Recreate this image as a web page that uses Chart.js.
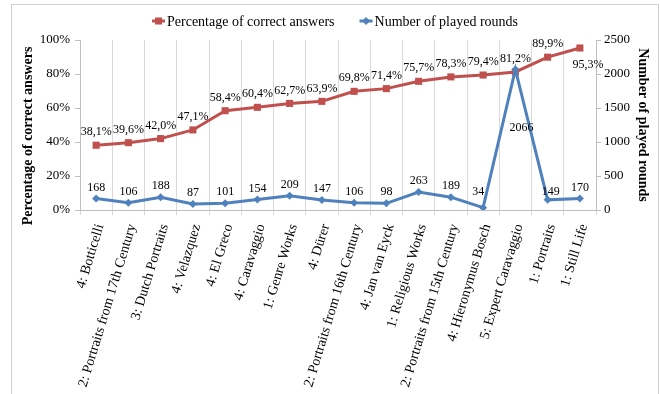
<!DOCTYPE html>
<html>
<head>
<meta charset="utf-8">
<script src="https://cdn.jsdelivr.net/npm/chart.js@4"></script>
<style>
  html, body { margin: 0; padding: 0; background: #fff; }
  #wrap { width: 660px; height: 394px; }
</style>
</head>
<body>
<div id="wrap"><canvas id="c" width="660" height="394"></canvas></div>
<script>
// Quiz categories along the x axis
const categories = [
  '4: Botticelli', '2: Portraits from 17th Century', '3: Dutch Portraits',
  '4: Velazquez', '4: El Greco', '4: Caravaggio', '1: Genre Works', '4: Dürer',
  '2: Portraits from 16th Century', '4: Jan van Eyck', '1: Religious Works',
  '2: Portraits from 15th Century', '4: Hieronymus Bosch', '5: Expert Caravaggio',
  '1: Portraits', '1: Still Life'
];
// Share of correct answers, in percent
const correctPct = [38.1, 39.6, 42.0, 47.1, 58.4, 60.4, 62.7, 63.9, 69.8, 71.4, 75.7, 78.3, 79.4, 81.2, 89.9, 95.3];
// Rounds played per category
const playedRounds = [168, 106, 188, 87, 101, 154, 209, 147, 106, 98, 263, 189, 34, 2066, 149, 170];
// Axis ticks
const pctTicks = [0, 20, 40, 60, 80, 100];
const roundTicks = [0, 500, 1000, 1500, 2000, 2500];

const FONT = "'Liberation Serif', 'Times New Roman', serif";
const RED = '#C0504D';
const BLUE = '#4F81BD';
const GRID = '#D9D9D9';
const AXIS = '#BFBFBF';

const fmtPct = v => v.toFixed(1).replace('.', ',') + '%';

// Label nudges (dx, dy from the point) per dataset index / point index
const labelNudge = {
  0: { 15: [8, 17] },
  1: { 12: [-5, -16], 13: [6, 58], 14: [3, -8] }
};
const baseLift = { 0: -13, 1: -11 };

const dataLabels = {
  id: 'dataLabels',
  afterDatasetsDraw(chart) {
    const ctx = chart.ctx;
    ctx.save();
    ctx.font = '12px ' + FONT;
    ctx.fillStyle = '#000';
    ctx.textAlign = 'center';
    ctx.textBaseline = 'middle';
    chart.data.datasets.forEach((ds, di) => {
      const meta = chart.getDatasetMeta(di);
      meta.data.forEach((pt, i) => {
        const n = (labelNudge[di] || {})[i];
        const dx = n ? n[0] : 0;
        const dy = n ? n[1] : baseLift[di];
        const v = ds.data[i];
        const txt = di === 0 ? fmtPct(v) : String(v);
        ctx.fillText(txt, pt.x + dx, pt.y + dy);
      });
    });
    ctx.restore();
  }
};

function drawMarker(ctx, style, x, y, color) {
  ctx.fillStyle = color;
  ctx.beginPath();
  if (style === 'rect') {
    ctx.rect(x - 3.5, y - 3.5, 7, 7);
  } else {
    ctx.moveTo(x, y - 4); ctx.lineTo(x + 4, y); ctx.lineTo(x, y + 4); ctx.lineTo(x - 4, y);
    ctx.closePath();
  }
  ctx.fill();
}

const frameAndLegend = {
  id: 'frameAndLegend',
  beforeDraw(chart) {
    const ctx = chart.ctx;
    ctx.save();
    ctx.strokeStyle = '#D0D0D0';
    ctx.lineWidth = 1;
    ctx.strokeRect(11.5, 4.5, 647, 420);
    ctx.restore();
  },
  afterDraw(chart) {
    const ctx = chart.ctx;
    ctx.save();
    // legend: line + marker + series name
    ctx.font = '14px ' + FONT;
    ctx.textBaseline = 'middle';
    ctx.textAlign = 'left';
    const y = 21;
    const items = chart.data.datasets.map(ds => ({
      text: ds.label, color: ds.borderColor, style: ds.pointStyle
    }));
    const sw = 13, gap = 2, between = 25;
    const widths = items.map(it => sw + gap + ctx.measureText(it.text).width);
    const total = widths.reduce((a, b) => a + b, 0) + between * (items.length - 1);
    let x = (chart.chartArea.left + chart.chartArea.right) / 2 - total / 2 - 3;
    items.forEach((it, k) => {
      ctx.strokeStyle = it.color;
      ctx.lineWidth = 3;
      ctx.beginPath();
      ctx.moveTo(x, y); ctx.lineTo(x + sw, y);
      ctx.stroke();
      drawMarker(ctx, it.style, x + sw / 2, y, it.color);
      ctx.fillStyle = '#000';
      ctx.fillText(it.text, x + sw + gap, y + 1);
      x += widths[k] + between;
    });
    // axis titles
    ctx.font = 'bold 14px ' + FONT;
    ctx.textAlign = 'center';
    ctx.fillStyle = '#000';
    ctx.save();
    ctx.translate(28, 136);
    ctx.rotate(-Math.PI / 2);
    ctx.fillText(chart.options.scales.yPct.title.text, 0, 0);
    ctx.restore();
    ctx.save();
    ctx.translate(643, 125);
    ctx.rotate(Math.PI / 2);
    ctx.fillText(chart.options.scales.yRounds.title.text, 0, 0);
    ctx.restore();
    ctx.restore();
  }
};

new Chart(document.getElementById('c'), {
  type: 'line',
  data: {
    labels: categories,
    datasets: [
      {
        label: 'Percentage of correct answers',
        data: correctPct,
        yAxisID: 'yPct',
        borderColor: RED,
        backgroundColor: RED,
        borderWidth: 3,
        pointStyle: 'rect',
        pointRadius: 5,
        pointBorderWidth: 0,
        tension: 0,
        order: 2
      },
      {
        label: 'Number of played rounds',
        data: playedRounds,
        yAxisID: 'yRounds',
        borderColor: BLUE,
        backgroundColor: BLUE,
        borderWidth: 3,
        pointStyle: 'rectRot',
        pointRadius: 4,
        pointBorderWidth: 0,
        tension: 0,
        order: 1
      }
    ]
  },
  options: {
    responsive: false,
    animation: false,
    devicePixelRatio: 1,
    layout: { padding: { top: 40, left: 0, right: 0, bottom: 0 } },
    plugins: {
      legend: { display: false },
      tooltip: { enabled: false }
    },
    scales: {
      x: {
        type: 'category',
        offset: true,
        grid: { offset: true, color: GRID, tickLength: 5, drawTicks: true },
        border: { color: AXIS },
        ticks: {
          autoSkip: false, minRotation: 73, maxRotation: 73, padding: 7, labelOffset: 4,
          color: '#000', font: { family: FONT, size: 14 }
        },
        afterFit(s) { s.height = 184; }
      },
      yPct: {
        type: 'linear', position: 'left', min: 0, max: 100,
        afterBuildTicks(s) { s.ticks = pctTicks.map(v => ({ value: v })); },
        grid: { drawOnChartArea: false, color: AXIS, tickLength: 5 },
        border: { color: AXIS },
        title: { display: false, text: 'Percentage of correct answers' },
        ticks: {
          padding: 5, color: '#000', font: { family: FONT, size: 13 },
          callback: v => v + '%'
        },
        afterFit(s) { s.width = 80; }
      },
      yRounds: {
        type: 'linear', position: 'right', min: 0, max: 2500,
        afterBuildTicks(s) { s.ticks = roundTicks.map(v => ({ value: v })); },
        grid: { drawOnChartArea: false, color: AXIS, tickLength: 5 },
        border: { color: AXIS },
        title: { display: false, text: 'Number of played rounds' },
        ticks: {
          padding: 3, color: '#000', font: { family: FONT, size: 13 },
          callback: v => String(v)
        },
        afterFit(s) { s.width = 64; }
      }
    }
  },
  plugins: [frameAndLegend, dataLabels]
});
</script>
</body>
</html>
